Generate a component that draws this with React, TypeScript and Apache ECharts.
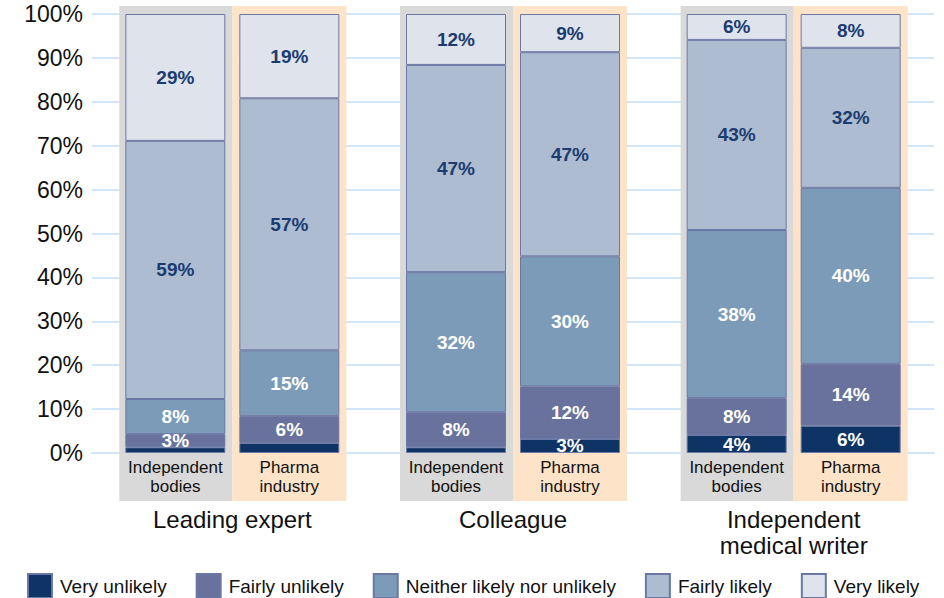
import React, { useEffect, useRef } from "react";
import * as echarts from "echarts";

const groups = ["Leading expert", "Colleague", "Independent\nmedical writer"];
const sources = ["Independent\nbodies", "Pharma\nindustry"];
const levels = ["Very unlikely", "Fairly unlikely", "Neither likely nor unlikely", "Fairly likely", "Very likely"];
const yTicks = [0, 10, 20, 30, 40, 50, 60, 70, 80, 90, 100];

// values per level, per group [Leading expert, Colleague, Independent medical writer]
const indepVeryUnlikely = [1.3, 1.3, 4.1];
const indepFairlyUnlikely = [3.0, 8.0, 8.4];
const indepNeither = [8.0, 31.9, 38.3];
const indepFairlyLikely = [58.8, 47.2, 43.3];
const indepVeryLikely = [28.9, 11.6, 5.9];

const pharmaVeryUnlikely = [2.3, 3.2, 6.2];
const pharmaFairlyUnlikely = [6.1, 12.0, 14.1];
const pharmaNeither = [15.0, 29.6, 40.1];
const pharmaFairlyLikely = [57.4, 46.5, 31.9];
const pharmaVeryLikely = [19.2, 8.7, 7.7];

const indepData = [indepVeryUnlikely, indepFairlyUnlikely, indepNeither, indepFairlyLikely, indepVeryLikely];
const pharmaData = [pharmaVeryUnlikely, pharmaFairlyUnlikely, pharmaNeither, pharmaFairlyLikely, pharmaVeryLikely];

const colors = ["#0e3466", "#68729c", "#7c9bb8", "#adbcd0", "#dfe3ec"];
const labelColors = ["#ffffff", "#ffffff", "#ffffff", "#1b3c70", "#1b3c70"];
const FONT = "'Liberation Sans', Arial, Helvetica, sans-serif";
const GRID_BLUE = "#d3e5f9";

export default function App() {
  const ref = useRef<HTMLDivElement>(null);
  useEffect(() => {
    if (!ref.current) return;
    const chart = echarts.init(ref.current, null, { renderer: "svg" });
    const series: any[] = [];
    [indepData, pharmaData].forEach((set, si) => {
      set.forEach((vals, li) => {
        series.push({
          type: "bar",
          name: levels[li],
          stack: si === 0 ? "indep" : "pharma",
          data: vals,
          barWidth: 100,
          barGap: "14%",
          z: 2,
          itemStyle: { color: colors[li], borderColor: "#6b78a6", borderWidth: 1 },
          label: {
            show: true,
            position: "inside",
            fontFamily: FONT,
            fontWeight: "bold",
            fontSize: 19,
            color: labelColors[li],
            formatter: (p: any) => (p.value >= 2.5 ? Math.round(p.value) + "%" : ""),
          },
        });
      });
    });
    chart.setOption({
      animation: false,
      textStyle: { fontFamily: FONT },
      grid: { left: 92, right: 10, top: 14, bottom: 145 },
      legend: {
        data: levels,
        left: 22,
        top: 568,
        icon: "rect",
        itemWidth: 24,
        itemHeight: 24,
        itemGap: 29,
        textStyle: { fontSize: 19, color: "#111", fontFamily: FONT, padding: [0, 0, 0, 3] },
      },
      xAxis: {
        type: "category",
        data: groups,
        z: 0,
        axisLine: { lineStyle: { color: GRID_BLUE, width: 2 } },
        axisTick: { length: 17, lineStyle: { color: GRID_BLUE, width: 2 } },
        axisLabel: { margin: 53, fontSize: 24, lineHeight: 26, color: "#111", fontFamily: FONT },
      },
      yAxis: {
        type: "value",
        min: 0,
        max: 100,
        interval: 10,
        z: 0,
        axisLine: { show: false },
        axisTick: { show: false },
        splitLine: { lineStyle: { color: GRID_BLUE, width: 2 } },
        axisLabel: { margin: 9, fontSize: 23, color: "#111", fontFamily: FONT, formatter: (v: number) => (yTicks.includes(v) ? v + "%" : "") },
      },
      series,
    });
    const yTop = chart.convertToPixel({ yAxisIndex: 0 }, 100) as number;
    const yBot = chart.convertToPixel({ yAxisIndex: 0 }, 0) as number;
    const elements: any[] = [];
    groups.forEach((g, i) => {
      const cx = chart.convertToPixel({ xAxisIndex: 0 }, g) as number;
      elements.push({
        type: "rect", z: 1, silent: true,
        shape: { x: cx - 113, y: yTop - 8, width: 113, height: yBot + 48 - (yTop - 8) },
        style: { fill: "#d9d9d9" },
      });
      elements.push({
        type: "rect", z: 1, silent: true,
        shape: { x: cx, y: yTop - 8, width: 114, height: yBot + 48 - (yTop - 8) },
        style: { fill: "#fde3c7" },
      });
      sources.forEach((s, k) => {
        elements.push({
          type: "text", z: 3, silent: true,
          x: cx + (k === 0 ? -57 : 57), y: yBot + 5,
          style: { text: s, align: "center", verticalAlign: "top", fontSize: 17, lineHeight: 19, fill: "#111", fontFamily: FONT },
        });
      });
    });
    chart.setOption({ graphic: { elements } });
    return () => chart.dispose();
  }, []);
  return <div ref={ref} style={{ width: 944, height: 598, position: "absolute", left: 0, top: 0 }} />;
}
